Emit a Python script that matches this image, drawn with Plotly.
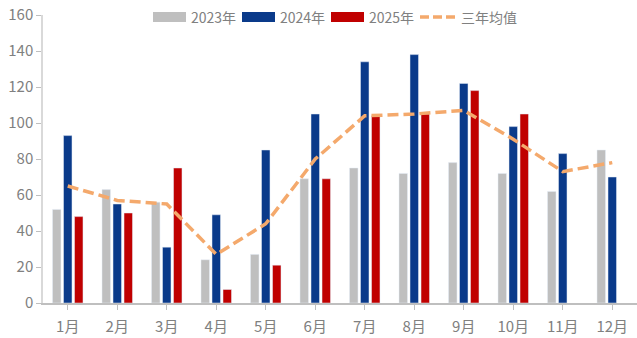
import plotly.graph_objects as go

months = ["1月", "2月", "3月", "4月", "5月", "6月", "7月", "8月", "9月", "10月", "11月", "12月"]
y2023 = [52, 63, 56, 24, 27, 69, 75, 72, 78, 72, 62, 85]
y2024 = [93, 55, 31, 49, 85, 105, 134, 138, 122, 98, 83, 70]
y2025 = [48, 50, 75, 7.5, 21, 69, 104, 105, 118, 105, None, None]
avg3 = [65, 57, 55, 27, 44, 80, 104, 105, 107, 91, 73, 78]

C_GRAY = "#BFBFBF"
C_BLUE = "#0A3A8A"
C_RED = "#C00000"
C_AVG = "#F4A96C"
TXT = "#808080"
FONT = "Noto Sans CJK SC"

W, H = 637, 338
ML, MR, MT, MB = 43, 0, 15, 35

fig = go.Figure()
fig.add_bar(x=months, y=y2023, name="2023年", marker_color=C_GRAY)
fig.add_bar(x=months, y=y2024, name="2024年", marker_color=C_BLUE)
fig.add_bar(x=months, y=y2025, name="2025年", marker_color=C_RED)
fig.add_scatter(x=months, y=avg3, name="三年均值", mode="lines",
                line=dict(color=C_AVG, width=3.5, dash="11px,5px"))

# legend drawn as wide swatches across the top
pw = W - ML - MR
ph = H - MT - MB


def px(x):
    return (x - ML) / pw


def py(y):
    return (H - MB - y) / ph


items = [("2023年", C_GRAY, 153, "bar"), ("2024年", C_BLUE, 242, "bar"),
         ("2025年", C_RED, 331, "bar"), ("三年均值", C_AVG, 420, "line")]
shapes = []
annotations = []
for label, color, x0, kind in items:
    if kind == "bar":
        shapes.append(dict(type="rect", xref="paper", yref="paper",
                           x0=px(x0), x1=px(x0 + 33), y0=py(22), y1=py(12),
                           fillcolor=color, line_width=0))
    else:
        shapes.append(dict(type="line", xref="paper", yref="paper",
                           x0=px(x0), x1=px(x0 + 35), y0=py(17), y1=py(17),
                           line=dict(color=color, width=3.5, dash="9px,4px")))
    annotations.append(dict(text=label, xref="paper", yref="paper",
                            x=px(x0 + (36 if kind == "bar" else 39)), y=py(17),
                            xanchor="left", yanchor="middle", showarrow=False,
                            font=dict(family=FONT, size=14, color=TXT)))

fig.update_layout(
    width=W, height=H,
    margin=dict(l=ML, r=MR, t=MT, b=MB),
    paper_bgcolor="white", plot_bgcolor="white",
    barmode="group", bargap=0.333, bargroupgap=0.23,
    showlegend=False,
    shapes=shapes, annotations=annotations,
    font=dict(family=FONT, size=14, color=TXT),
)
fig.update_xaxes(showline=True, linecolor="#BFBFBF", linewidth=1.5,
                 ticks="outside", ticklen=5, tickcolor="#BFBFBF",
                 ticklabelstandoff=4,
                 showgrid=False, tickfont=dict(size=15, color=TXT))
fig.update_yaxes(range=[0, 160], dtick=20, showline=True, linecolor="#D9D9D9",
                 linewidth=1.5, ticks="outside", ticklen=5, tickcolor="#BFBFBF",
                 showgrid=False, zeroline=False, tickfont=dict(size=15, color=TXT))

fig.write_html("out.html")
